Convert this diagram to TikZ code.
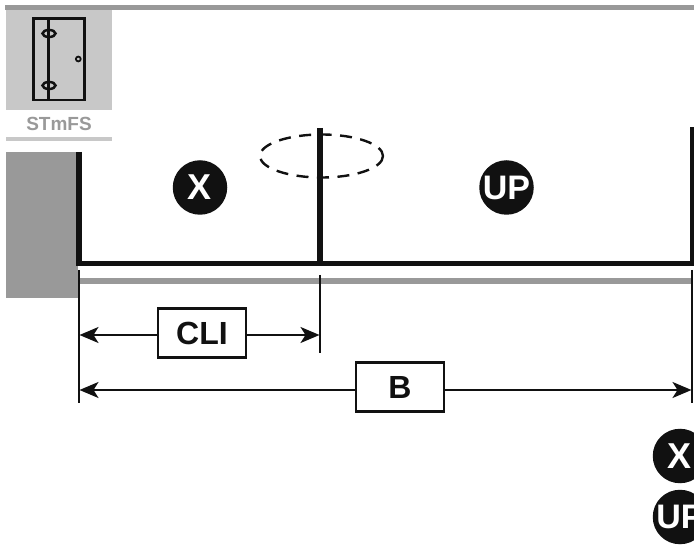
\documentclass[tikz,border=0pt]{standalone}
\usepackage{fontspec}
\setmainfont{Liberation Sans}
\usetikzlibrary{arrows.meta}
\definecolor{ink}{HTML}{111111}
\definecolor{midgray}{HTML}{999999}
\definecolor{lightgray}{HTML}{C8C8C8}
\tikzset{
  x=1pt,y=-1pt,
  wall/.style={draw=ink,line width=5.2pt},
  dim/.style={draw=ink,line width=2pt},
  labelbox/.style={draw=ink,line width=2.6pt,fill=white,inner sep=0pt,minimum width=88pt,minimum height=49pt,font=\bfseries\fontsize{32}{32}\selectfont,text=ink},
  badge/.style={circle,fill=ink,inner sep=0pt,minimum size=54.5pt,text=white,font=\bfseries\fontsize{36}{36}\selectfont},
  badgeup/.style={badge,font=\bfseries\fontsize{34}{34}\selectfont},
  doorline/.style={draw=ink,line width=2.5pt},
}
\newcommand{\tipshape}{Stealth[length=19pt,width=16pt,inset=5pt]}
\begin{document}
\begin{tikzpicture}
\useasboundingbox (0,0) rectangle (694,545);
\clip (0,0) rectangle (694,545);
% panel
\fill[midgray] (5,5) rectangle (694,10);
\fill[lightgray] (6,10) rectangle (112,110);
\fill[lightgray] (6,137) rectangle (112,141);
\fill[midgray] (6,152) rectangle (78,298);
\fill[midgray] (79,278) rectangle (692,284);
% door icon
\draw[doorline] (33.5,18.5) rectangle (84.5,100);
\draw[doorline] (48.5,18.5) -- (48.5,100);
\draw[doorline] (49,33.5) ellipse (6.5 and 3.5);
\draw[doorline] (49,85.5) ellipse (6.5 and 3.5);
\draw[draw=ink,line width=1.8pt] (78.3,59) circle (2.4);
\node[text=midgray,font=\bfseries\fontsize{19}{19}\selectfont,inner sep=0pt] (stmfs) at (59,124) {STmFS};
% walls
\coordinate (wallTop) at (79,152);
\coordinate (wallCorner) at (79,263.5);
\coordinate (floorEnd) at (694,263.5);
\coordinate (midTop) at (320,128);
\coordinate (midFoot) at (320,263.5);
\coordinate (rightTop) at (692.6,127);
\coordinate (rightFoot) at (692.6,263.5);
\draw[wall] (wallTop) -- (wallCorner);
\draw[wall] (76.4,263.5) -- (floorEnd);
\draw[wall] (midTop) -- (midFoot);
\draw[wall] (rightTop) -- (rightFoot);
% dashed ellipse
\draw[draw=ink,line width=2.4pt,dash pattern=on 12pt off 8.5pt] (321.5,156) ellipse (61.5 and 21.5);
% badges
\node[badge] (x1) at (200,187.5) {X};
\node[badgeup] (up1) at (506.5,187.5) {UP};
\node[badge] (x2) at (680,456) {X};
\node[badgeup] (up2) at (680,517) {UP};
% dimension extension lines
\coordinate (a1) at (79,270);
\coordinate (a2) at (79,403);
\coordinate (b1) at (320,275);
\coordinate (b2) at (320,353);
\coordinate (c1) at (692.3,270);
\coordinate (c2) at (692.3,403);
\draw[dim] (a1) -- (a2);
\draw[dim] (b1) -- (b2);
\draw[dim] (c1) -- (c2);
% dimension labels
\node[labelbox] (cli) at (202,333) {CLI};
\node[labelbox] (bnode) at (400,387) {B};
\coordinate (cliL) at (79.5,335);
\coordinate (cliR) at (319.5,335);
\coordinate (bL) at (79.5,390);
\coordinate (bR) at (691.5,390);
\draw[dim,\tipshape-] (cliL) -- (cli.west |- cliL);
\draw[dim,-\tipshape] (cli.east |- cliR) -- (cliR);
\draw[dim,\tipshape-] (bL) -- (bnode.west |- bL);
\draw[dim,-\tipshape] (bnode.east |- bR) -- (bR);
\end{tikzpicture}
\end{document}
